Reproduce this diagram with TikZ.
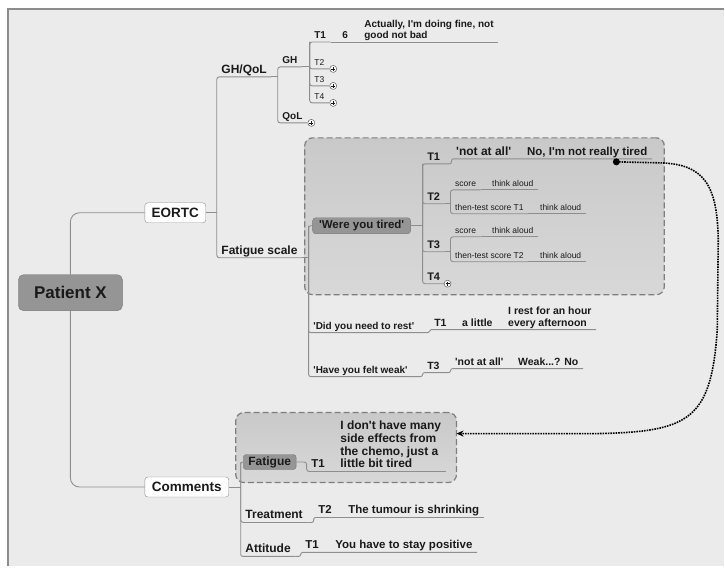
\documentclass[tikz,border=0pt]{standalone}
\usepackage{fontspec}
\setmainfont{Liberation Sans}[Ligatures=TeXOff]
\usepackage{tikz}
\usetikzlibrary{positioning, arrows.meta}

\definecolor{pagebg}{HTML}{EBEBEB}
\definecolor{framegray}{HTML}{8C8C8C}
\definecolor{linegray}{HTML}{8E8E8E}
\definecolor{boxgray}{HTML}{959595}
\definecolor{boxedge}{HTML}{777777}
\definecolor{boundtop}{HTML}{C9C9C9}
\definecolor{boundbottom}{HTML}{D8D8D8}
\definecolor{boundedge}{HTML}{7E7E7E}
\definecolor{ink}{HTML}{1A1A1A}

\begin{document}
\begin{tikzpicture}[x=1pt,y=-1pt,
	branch/.style={draw=linegray,line width=0.9pt,rounded corners=2.5pt},
	topic/.style={anchor=south west,inner xsep=4.5pt,inner ysep=1pt,text depth=2.4pt,text=ink,
		font=\bfseries\fontsize{12}{13}\selectfont},
	midtopic/.style={topic,font=\bfseries\fontsize{10.5}{12}\selectfont},
	smalltopic/.style={topic,font=\fontsize{8.5}{9}\selectfont},
	mainbox/.style={rectangle,rounded corners=5pt,fill=boxgray,draw=boxedge,text=ink,
		minimum width=104pt,minimum height=36pt,font=\bfseries\fontsize{17}{17}\selectfont},
	whitebox/.style={rectangle,rounded corners=3pt,fill=white,draw=linegray,text=ink,
		inner sep=1pt,minimum height=20pt,font=\bfseries\fontsize{13.5}{14}\selectfont},
	greybox/.style={rectangle,rounded corners=3pt,fill=boxgray,draw=boxedge,text=ink,
		inner sep=1pt,font=\bfseries\fontsize{11.5}{12}\selectfont},
	boundary/.style={rectangle,rounded corners=8pt,draw=boundedge,line width=1.2pt,
		dash pattern=on 6pt off 3pt,top color=boundtop,bottom color=boundbottom,inner sep=0pt},
	expander/.style={circle,draw=ink!70,line width=0.5pt,fill=white,inner sep=0pt,minimum size=7pt,
		anchor=west,path picture={
			\draw[ink,line width=0.5pt] ([xshift=-2pt]path picture bounding box.center) -- ++(4pt,0pt);
			\draw[ink,line width=0.5pt] ([yshift=-2pt]path picture bounding box.center) -- ++(0pt,4pt);}},
	recall/.style={draw=black,line width=1.6pt,densely dotted,-{Stealth[length=7pt,width=6pt]}},
	dotnode/.style={circle,fill=black,inner sep=0pt,minimum size=7pt}]

	% page
	\fill[white] (0,0) rectangle (725,567);
	\fill[pagebg] (8,9) rectangle (725,567);
	\draw[framegray,line width=1.5pt] (8,567) -- (8,9) -- (725,9);
	\useasboundingbox (0,0) rectangle (725,567);

	% boundaries
	\node[boundary,minimum width=360pt,minimum height=157pt] (bndtired) at (485,216.5) {};
	\node[boundary,minimum width=221pt,minimum height=70pt] (bndfatigue) at (346.5,448) {};

	% central topic and main branches
	\node[mainbox] (patient) at (70.5,293) {Patient X};
	\node[whitebox,minimum width=61pt] (eortc) at (175.5,213) {EORTC};
	\node[whitebox,minimum width=84pt] (comments) at (187,487.5) {Comments};

	% EORTC
	\node[topic] (ghqol) at (217,77) {GH/QoL};
	\node[topic] (fatscale) at (217,258) {Fatigue scale};
	\node[topic,font=\bfseries\fontsize{10}{11}\selectfont] (gh) at (278,67) {GH};
	\node[topic,font=\bfseries\fontsize{10}{11}\selectfont] (qol) at (278,123) {QoL};
	\node[topic,font=\bfseries\fontsize{10}{11}\selectfont] (ght1) at (310,42) {T1};
	\node[smalltopic] (ght2) at (310,69) {T2};
	\node[smalltopic] (ght3) at (310,86) {T3};
	\node[smalltopic] (ght4) at (310,103) {T4};
	\node[topic,font=\bfseries\fontsize{10}{11}\selectfont] (six) at (338,42) {6};
	\node[topic,font=\bfseries\fontsize{10}{11}\selectfont,align=left] (actually) at (360,42)
		{Actually, I'm doing fine, not\\good not bad};

	% fatigue scale
	\node[greybox,minimum width=98pt,minimum height=16pt] (tired) at (362,226) {'Were you tired'};
	\node[topic,font=\bfseries\fontsize{11}{12}\selectfont] (t1b) at (423,164) {T1};
	\node[topic] (notatall) at (452,159) {'not at all'};
	\node[topic,font=\bfseries\fontsize{11.5}{12}\selectfont] (nottired) at (523,159) {No, I'm not really tired};
	\node[topic,font=\bfseries\fontsize{11}{12}\selectfont] (t2b) at (423,204) {T2};
	\node[smalltopic] (score1) at (451,190) {score};
	\node[smalltopic] (aloud1) at (488,190) {think aloud};
	\node[smalltopic] (then1) at (451,214) {then-test score T1};
	\node[smalltopic] (aloud2) at (536,214) {think aloud};
	\node[topic,font=\bfseries\fontsize{11}{12}\selectfont] (t3b) at (423,252) {T3};
	\node[smalltopic] (score2) at (451,237) {score};
	\node[smalltopic] (aloud3) at (488,237) {think aloud};
	\node[smalltopic] (then2) at (451,262) {then-test score T2};
	\node[smalltopic] (aloud4) at (536,262) {think aloud};
	\node[topic,font=\bfseries\fontsize{11}{12}\selectfont] (t4b) at (423,284) {T4};

	\node[midtopic,font=\bfseries\fontsize{10}{11}\selectfont] (rest) at (309,333) {'Did you need to rest'};
	\node[midtopic] (t1e) at (430,330) {T1};
	\node[midtopic] (alittle) at (458,330) {a little};
	\node[midtopic,align=left] (restnote) at (504,330) {I rest for an hour\\every afternoon};
	\node[midtopic,font=\bfseries\fontsize{10}{11}\selectfont] (weak) at (309,377) {'Have you felt weak'};
	\node[midtopic] (t3e) at (423,373) {T3};
	\node[midtopic] (notatall2) at (451,369) {'not at all'};
	\node[midtopic] (weaknote) at (514,369) {Weak...? No};

	% comments
	\node[greybox,font=\bfseries\fontsize{12}{12}\selectfont,minimum width=53pt,minimum height=15pt]
		(fatigue) at (270,462.5) {Fatigue};
	\node[topic,font=\bfseries\fontsize{11.5}{12}\selectfont] (t1c) at (307,472) {T1};
	\node[topic,font=\bfseries\fontsize{12}{12.7}\selectfont,align=left] (sidefx) at (336,472)
		{I don't have many\\side effects from\\the chemo, just a\\little bit tired};
	\node[topic] (treatment) at (241,523) {Treatment};
	\node[topic,font=\bfseries\fontsize{11.5}{12}\selectfont] (t2d) at (314,518) {T2};
	\node[topic,font=\bfseries\fontsize{11.5}{12}\selectfont] (shrink) at (344,518) {The tumour is shrinking};
	\node[topic] (attitude) at (241,557) {Attitude};
	\node[topic,font=\bfseries\fontsize{11.5}{12}\selectfont] (t1d) at (301,553) {T1};
	\node[topic,font=\bfseries\fontsize{11.5}{12}\selectfont] (positive) at (331,553) {You have to stay positive};

	% collapsed branches
	\node[expander] (qolx) at ([xshift=0.5pt]qol.south east) {};
	\node[expander] (ght2x) at ([xshift=0.5pt]ght2.south east) {};
	\node[expander] (ght3x) at ([xshift=0.5pt]ght3.south east) {};
	\node[expander] (ght4x) at ([xshift=0.5pt]ght4.south east) {};
	\node[expander] (t4bx) at ([xshift=-1pt]t4b.south east) {};

	% branches
	\draw[branch,rounded corners=9pt] (patient.north) |- (eortc.west);
	\draw[branch,rounded corners=9pt] (patient.south) |- (comments.west);

	\draw[branch] (eortc.east) -- (eortc.east -| ghqol.south west);
	\draw[branch] (ghqol.south east) -- (ghqol.south west) |- (fatscale.south east);
	\draw[branch] (ghqol.south east) -- (ghqol.south east -| gh.south west);
	\draw[branch] (gh.south east) -- (gh.south west) |- (qol.south east);
	\draw[branch] (gh.south east) -- (gh.south east -| ght1.south west);
	\draw[branch] (ght1.south east) -- (ght1.south west) |- (ght4.south east);
	\draw[branch] (ght1.south west) |- (ght2.south east);
	\draw[branch] (ght1.south west) |- (ght3.south east);
	\draw[branch] (ght1.south east) -- (actually.south east);

	\draw[branch] (fatscale.south east) -- (fatscale.south east -| rest.south west);
	\draw[branch,rounded corners=2pt] (tired.west) -- (tired.west -| rest.south west) |- (weak.south east);
	\draw[branch,rounded corners=2pt] (tired.west -| rest.south west) |- (rest.south east);
	\draw[branch] (tired.east) -- (tired.east -| t1b.south west);
	\draw[branch] (t1b.south east) -- (t1b.south west) |- (t4b.south east);
	\draw[branch] (t1b.south west) |- (t2b.south east);
	\draw[branch] (t1b.south west) |- (t3b.south east);
	\draw[branch,rounded corners=2pt] (t1b.south east) -- (t1b.south east -| notatall.south west)
		|- (notatall.south east) -- (nottired.south east);
	\draw[branch] (t2b.south east) -- (t2b.south east -| score1.south west);
	\draw[branch] (score1.south east) -- (score1.south west) |- (then1.south east);
	\draw[branch] (score1.south east) -- (aloud1.south east);
	\draw[branch] (then1.south east) -- (aloud2.south east);
	\draw[branch] (t3b.south east) -- (t3b.south east -| score2.south west);
	\draw[branch] (score2.south east) -- (score2.south west) |- (then2.south east);
	\draw[branch] (score2.south east) -- (aloud3.south east);
	\draw[branch] (then2.south east) -- (aloud4.south east);

	\draw[branch,rounded corners=1.5pt] (rest.south east) -- (rest.south east -| t1e.south west)
		|- (t1e.south east) -- (restnote.south east);
	\draw[branch,rounded corners=2pt] (weak.south east) -- (weak.south east -| t3e.south west)
		|- (t3e.south east) -- (t3e.south east -| notatall2.south west)
		|- (notatall2.south east) -- (weaknote.south east);

	\draw[branch] (comments.east) -- (comments.east -| treatment.south west);
	\draw[branch,rounded corners=2pt] (fatigue.west) -- (fatigue.west -| treatment.south west) |- (attitude.south east);
	\draw[branch] (fatigue.west -| treatment.south west) |- (treatment.south east);
	\draw[branch] (fatigue.east) -- (fatigue.east -| t1c.south west) |- (sidefx.south east);
	\draw[branch,rounded corners=2pt] (treatment.south east) -- (treatment.south east -| t2d.south west)
		|- (t2d.south east) -- (shrink.south east);
	\draw[branch,rounded corners=2pt] (attitude.south east) -- (attitude.south east -| t1d.south west)
		|- (t1d.south east) -- (positive.south east);

	% link from the answer to the comment
	\coordinate (recallstart) at (617,162);
	\coordinate (recallend) at (457,434);
	\draw[recall] (recallstart) -- (660,163) .. controls (705,164) and (718,185) .. (719,240)
		-- (718,330) .. controls (712,420) and (690,432) .. (600,434) -- (recallend);
	\node[dotnode] (dot) at (recallstart) {};
\end{tikzpicture}
\end{document}
